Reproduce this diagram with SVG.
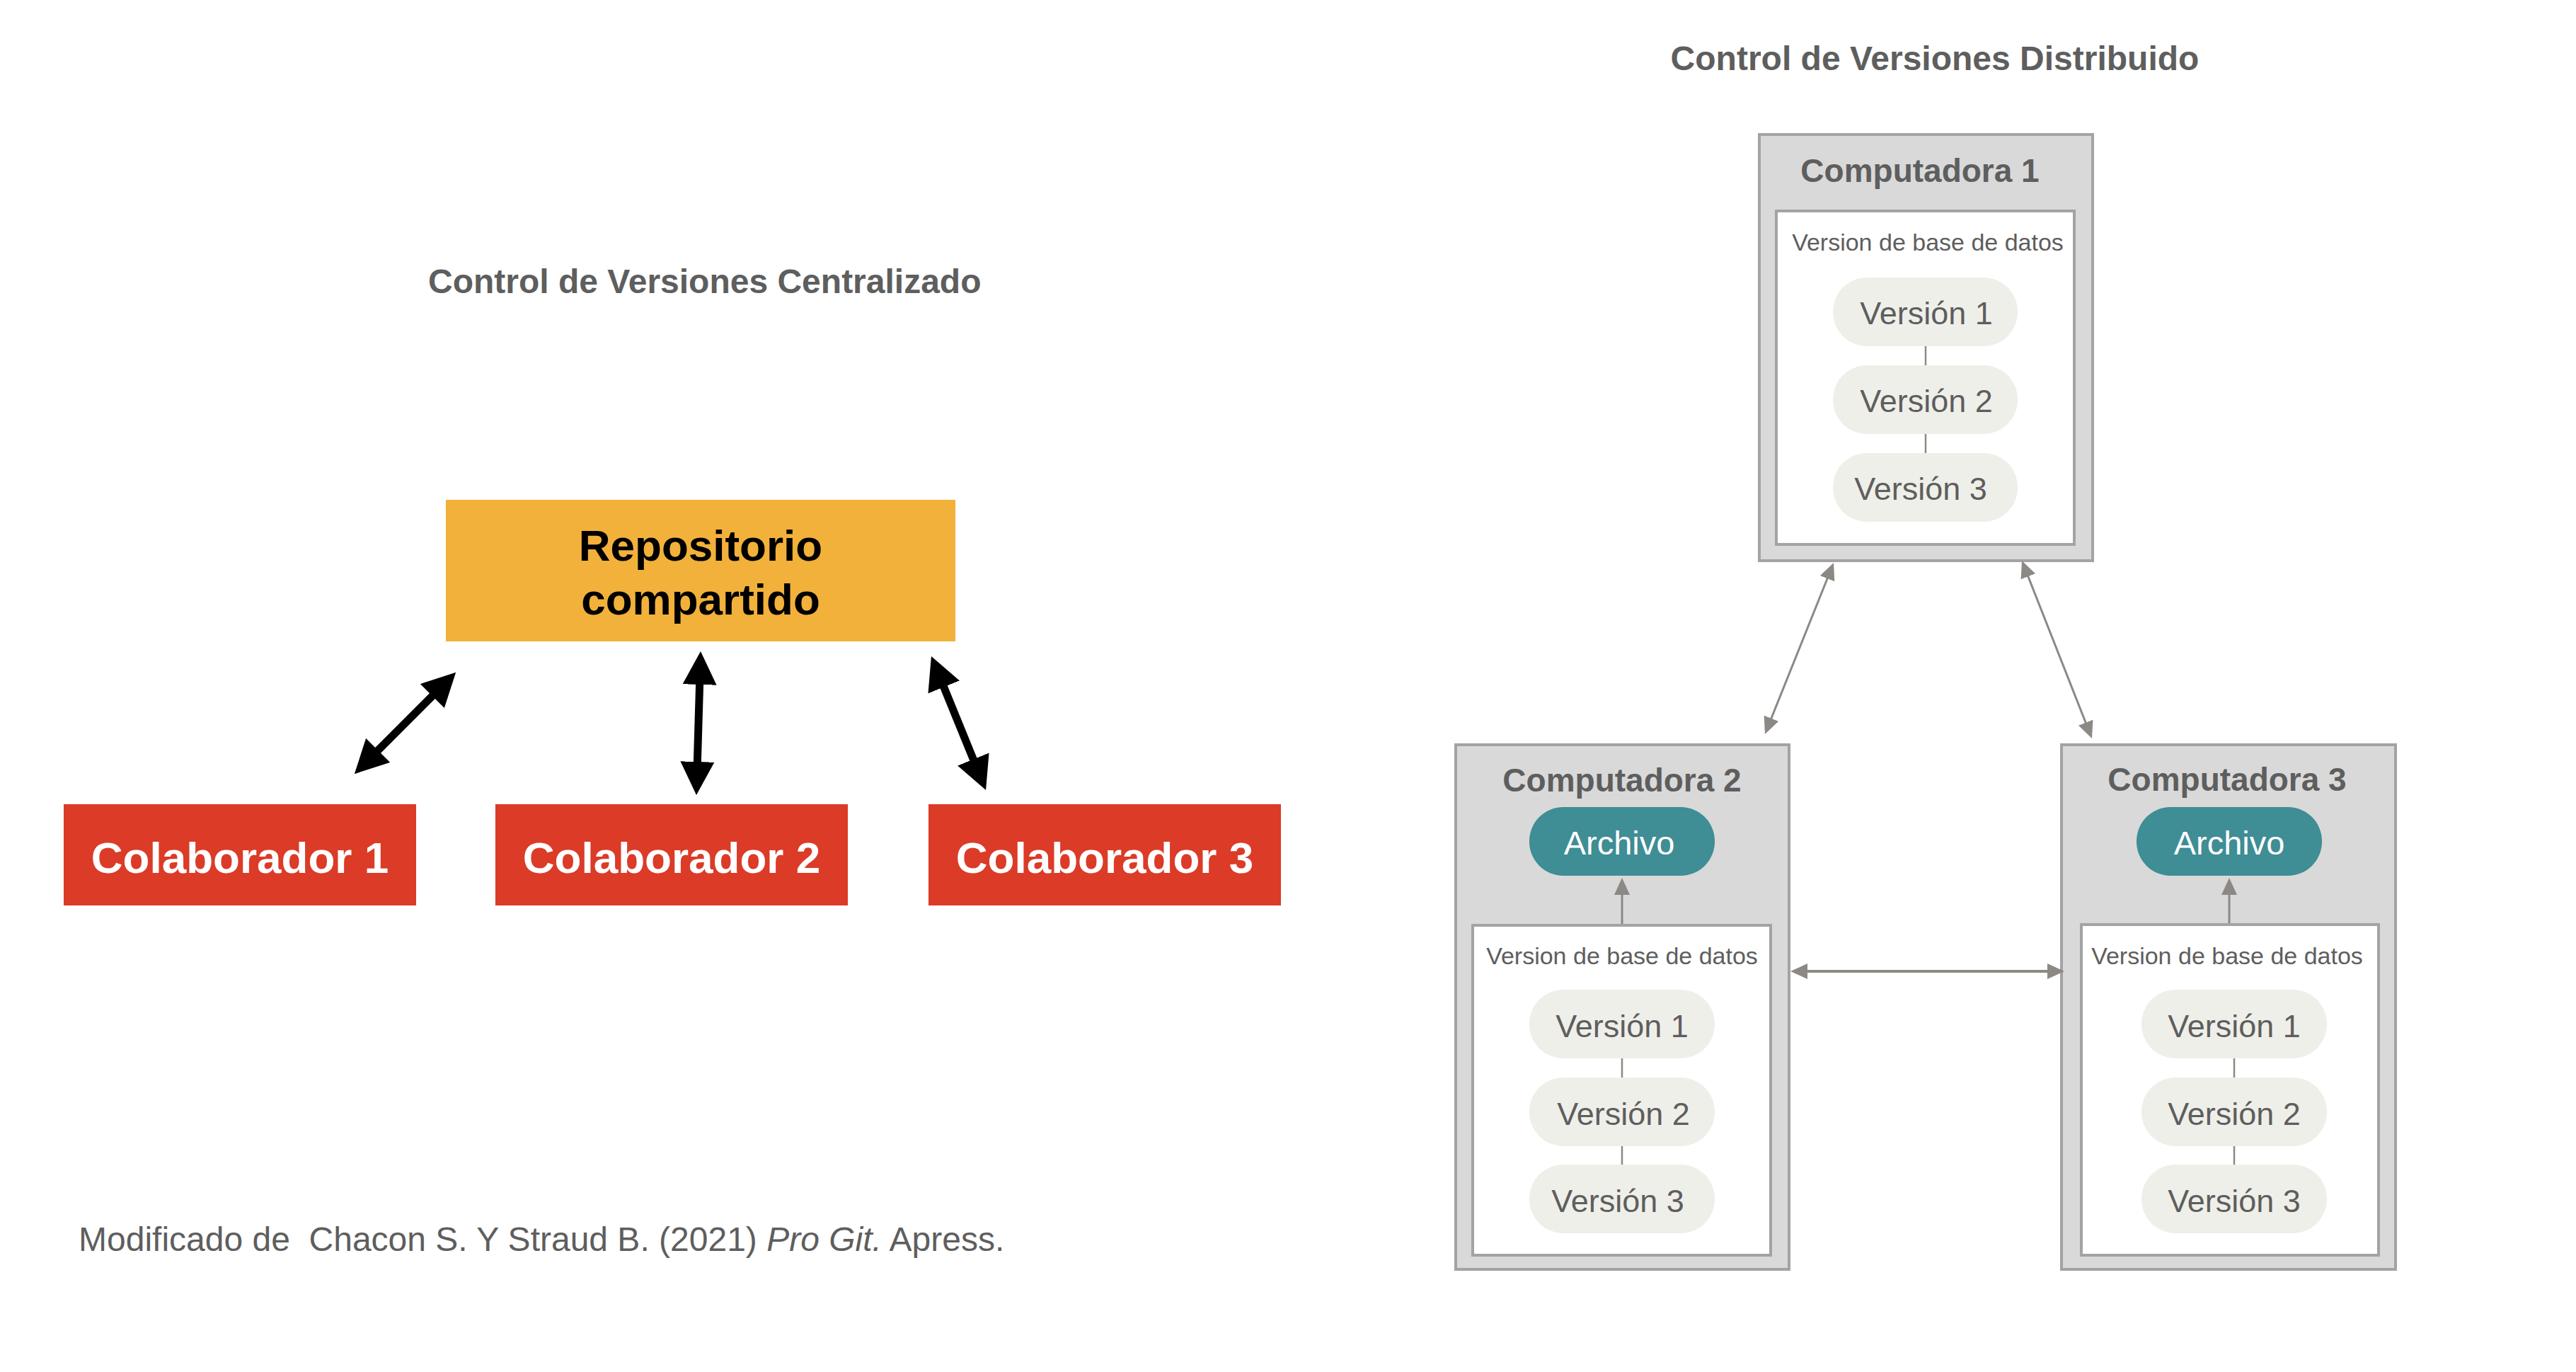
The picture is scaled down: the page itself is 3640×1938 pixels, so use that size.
<svg xmlns="http://www.w3.org/2000/svg" width="3640" height="1938" viewBox="0 0 3640 1938">
<style>
text{font-family:"Liberation Sans",Arial,Helvetica,sans-serif}
.title{font-size:48px;font-weight:bold;fill:#5e5e5e}
.repo{fill:#f2b13b}
.colab{fill:#db3b27}
.colabt{font-size:62px;font-weight:bold;fill:#ffffff;text-anchor:middle}
.repot{font-size:62px;font-weight:bold;fill:#000000;text-anchor:middle}
.comp{fill:#d9d9d9;stroke:#a3a3a3;stroke-width:4}
.db{fill:#ffffff;stroke:#a3a3a3;stroke-width:4}
.compt{font-size:46px;font-weight:bold;fill:#5e5e5e;text-anchor:middle}
.dbt{font-size:34px;fill:#5e5e5e;text-anchor:middle}
.pill{fill:#efefe9}
.pillt{font-size:45px;fill:#5e5e5e;text-anchor:middle}
.arch{fill:#3f8d95}
.archt{font-size:47px;fill:#ffffff;text-anchor:middle}
.blk{stroke:#000000;stroke-width:11;fill:none;marker-start:url(#bh);marker-end:url(#bh)}
.gry{stroke:#8c8984;stroke-width:3;fill:none;marker-start:url(#gh);marker-end:url(#gh)}
.gry1{stroke:#8c8984;stroke-width:3;fill:none;marker-end:url(#gh)}
.lnk{stroke:#8c8984;stroke-width:2.5;fill:none}
.foot{font-size:48px;fill:#5e5e5e}
</style>
<defs>
<marker id="bh" markerUnits="userSpaceOnUse" markerWidth="48" markerHeight="48" refX="27" refY="24" orient="auto-start-reverse">
<path d="M0,0 L47,24 L0,48 Z" fill="#000000"/>
</marker>
<marker id="gh" markerUnits="userSpaceOnUse" markerWidth="24" markerHeight="22" refX="14" refY="11" orient="auto-start-reverse">
<path d="M0,0 L24,11 L0,22 Z" fill="#8c8984"/>
</marker>
</defs>
<rect width="3640" height="1938" fill="#ffffff"/>

<text class="title" x="605" y="414">Control de Versiones Centralizado</text>
<text class="title" x="2734" y="99" text-anchor="middle">Control de Versiones Distribuido</text>

<g id="repositorio">
<rect class="repo" x="630" y="706" width="720" height="200"/>
<text class="repot" x="990" y="792">Repositorio</text>
<text class="repot" x="990" y="868">compartido</text>
</g>
<g id="colaborador1">
<rect class="colab" x="90" y="1136" width="498" height="143"/>
<text class="colabt" x="339" y="1233">Colaborador 1</text>
</g>
<g id="colaborador2">
<rect class="colab" x="700" y="1136" width="498" height="143"/>
<text class="colabt" x="949" y="1233">Colaborador 2</text>
</g>
<g id="colaborador3">
<rect class="colab" x="1312" y="1136" width="498" height="143"/>
<text class="colabt" x="1561" y="1233">Colaborador 3</text>
</g>

<g id="computadora1">
<rect class="comp" x="2486" y="190" width="471" height="602"/>
<text class="compt" x="2713" y="257">Computadora 1</text>
<rect class="db" x="2510" y="298" width="421" height="471"/>
<text class="dbt" x="2724" y="354">Version de base de datos</text>
<line class="lnk" x1="2721" y1="489" x2="2721" y2="516"/>
<line class="lnk" x1="2721" y1="613" x2="2721" y2="640"/>
<rect class="pill" x="2590" y="392" width="261" height="97" rx="48"/>
<text class="pillt" x="2722" y="458">Versión 1</text>
<rect class="pill" x="2590" y="516" width="261" height="97" rx="48"/>
<text class="pillt" x="2722" y="582">Versión 2</text>
<rect class="pill" x="2590" y="640" width="261" height="97" rx="48"/>
<text class="pillt" x="2714" y="706">Versión 3</text>
</g>

<g id="computadora2">
<rect class="comp" x="2057" y="1052" width="471" height="741"/>
<text class="compt" x="2292" y="1118">Computadora 2</text>
<rect class="arch" x="2161" y="1140" width="262" height="97" rx="48"/>
<text class="archt" x="2288" y="1207">Archivo</text>
<line class="gry1" x1="2292" y1="1307" x2="2292" y2="1250"/>
<rect class="db" x="2081" y="1307" width="421" height="466"/>
<text class="dbt" x="2292" y="1362">Version de base de datos</text>
<line class="lnk" x1="2292" y1="1495" x2="2292" y2="1522"/>
<line class="lnk" x1="2292" y1="1619" x2="2292" y2="1645"/>
<rect class="pill" x="2161" y="1398" width="262" height="97" rx="48"/>
<text class="pillt" x="2292" y="1465">Versión 1</text>
<rect class="pill" x="2161" y="1522" width="262" height="97" rx="48"/>
<text class="pillt" x="2294" y="1589">Versión 2</text>
<rect class="pill" x="2161" y="1645" width="262" height="97" rx="48"/>
<text class="pillt" x="2286" y="1712">Versión 3</text>
</g>

<g id="computadora3">
<rect class="comp" x="2913" y="1052" width="472" height="741"/>
<text class="compt" x="3147" y="1117">Computadora 3</text>
<rect class="arch" x="3019" y="1140" width="262" height="97" rx="48"/>
<text class="archt" x="3150" y="1207">Archivo</text>
<line class="gry1" x1="3150" y1="1306" x2="3150" y2="1250"/>
<rect class="db" x="2941" y="1306" width="420" height="467"/>
<text class="dbt" x="3147" y="1362">Version de base de datos</text>
<line class="lnk" x1="3157" y1="1495" x2="3157" y2="1522"/>
<line class="lnk" x1="3157" y1="1619" x2="3157" y2="1645"/>
<rect class="pill" x="3026" y="1398" width="262" height="97" rx="48"/>
<text class="pillt" x="3157" y="1465">Versión 1</text>
<rect class="pill" x="3026" y="1522" width="262" height="97" rx="48"/>
<text class="pillt" x="3157" y="1589">Versión 2</text>
<rect class="pill" x="3026" y="1645" width="262" height="97" rx="48"/>
<text class="pillt" x="3157" y="1712">Versión 3</text>
</g>

<g id="connectors">
<line class="blk" x1="630" y1="964" x2="515" y2="1079"/>
<line class="blk" x1="989.4" y1="940" x2="984.6" y2="1103"/>
<line class="blk" x1="1323.5" y1="945.5" x2="1385.5" y2="1097.5"/>
<line class="gry" x1="2587.3" y1="804.3" x2="2497.7" y2="1027.7"/>
<line class="gry" x1="2860.7" y1="801.3" x2="2952.3" y2="1033.7"/>
<line class="gry" x1="2540" y1="1372" x2="2907" y2="1372" style="stroke-width:4"/>
</g>

<text class="foot" x="111" y="1767" xml:space="preserve">Modificado de  Chacon S. Y Straud B. (2021) <tspan font-style="italic">Pro Git.</tspan> Apress.</text>
</svg>
